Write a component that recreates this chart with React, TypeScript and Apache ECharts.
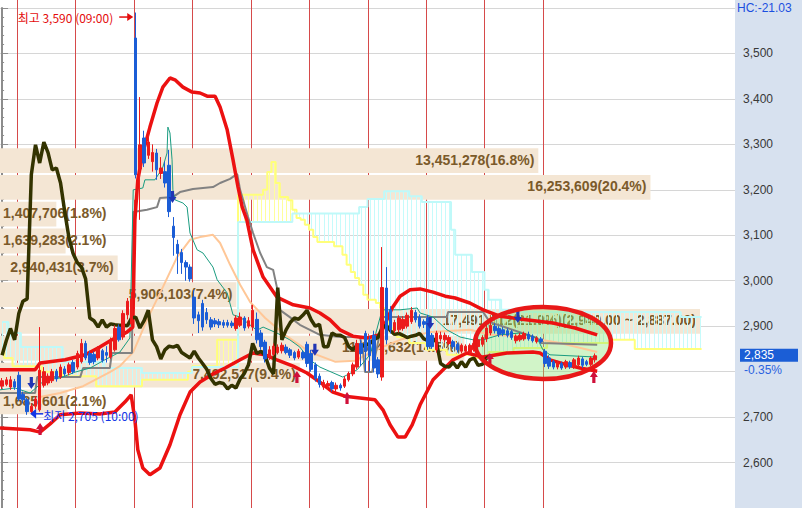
import React, { useEffect, useRef } from "react";
import * as echarts from "echarts";

// ---------------- data ----------------
const SLOTS = 176; // 30-minute slots across the visible x range (incl. cloud projection)
const BARS_PER_DAY = 14;
const FIRST_DAY_BAR = 4; // first 09:00 bar
const CHIKOU_SHIFT = 25;
const CLOUD_LAST_BAR = 167;

const SESSION_TIMES = ["09:00", "09:30", "10:00", "10:30", "11:00", "11:30", "12:00", "12:30", "13:00", "13:30", "14:00", "14:30", "15:00", "15:30"];

// [open, close, low, high]
const ohlc: number[][] = [
  [2768, 2780, 2762, 2786], [2772, 2782, 2768, 2788], [2766, 2782, 2760, 2790], [2778, 2766, 2760, 2784],
  [2792, 2740, 2735, 2800], [2750, 2738, 2730, 2756], [2738, 2712, 2705, 2742], [2712, 2724, 2708, 2730],
  [2724, 2740, 2718, 2746], [2716, 2803, 2712, 2898], [2770, 2800, 2765, 2810], [2775, 2790, 2770, 2796],
  [2780, 2800, 2775, 2806], [2801, 2784, 2778, 2806], [2788, 2810, 2784, 2816], [2806, 2795, 2790, 2812],
  [2798, 2815, 2792, 2820], [2820, 2800, 2795, 2826],
  [2810, 2840, 2805, 2846], [2822, 2862, 2818, 2872], [2862, 2830, 2825, 2868], [2840, 2820, 2815, 2846],
  [2838, 2822, 2816, 2844], [2830, 2850, 2825, 2856], [2846, 2825, 2820, 2850], [2842, 2836, 2820, 2856],
  [2832, 2868, 2828, 2875], [2848, 2895, 2844, 2902], [2898, 2870, 2866, 2904], [2876, 2928, 2870, 2935],
  [2925, 2955, 2915, 2962], [2905, 2960, 2895, 2975],
  [3534, 3233, 3225, 3590], [3246, 3299, 3134, 3404], [3314, 3259, 3250, 3330], [3276, 3305, 3268, 3320],
  [3262, 3282, 3240, 3300], [3281, 3244, 3222, 3290], [3236, 3248, 3224, 3272], [3240, 3215, 3205, 3262],
  [3254, 3152, 3140, 3288], [3120, 3095, 3055, 3140], [3080, 3060, 3015, 3090], [3062, 3040, 3015, 3070],
  [3040, 3030, 3000, 3045], [3030, 3004, 2998, 3036],
  [2964, 2918, 2905, 2980], [2925, 2912, 2885, 2932], [2950, 2898, 2890, 2958], [2930, 2914, 2905, 2940],
  [2914, 2898, 2892, 2920], [2912, 2905, 2898, 2918], [2910, 2903, 2896, 2916], [2908, 2902, 2896, 2914],
  [2908, 2902, 2897, 2914], [2907, 2901, 2896, 2912], [2895, 2918, 2890, 2924], [2902, 2920, 2898, 2930],
  [2918, 2896, 2890, 2922], [2900, 2912, 2895, 2920],
  [2898, 2935, 2890, 2947], [2915, 2870, 2862, 2930], [2885, 2855, 2848, 2892], [2865, 2828, 2820, 2870],
  [2832, 2848, 2826, 2856], [2838, 2856, 2834, 2862], [2842, 2854, 2838, 2860], [2846, 2858, 2840, 2864],
  [2854, 2842, 2838, 2860], [2848, 2836, 2830, 2852], [2842, 2830, 2825, 2846], [2832, 2845, 2828, 2850],
  [2842, 2830, 2826, 2846], [2860, 2818, 2810, 2866],
  [2840, 2805, 2800, 2848], [2815, 2785, 2778, 2820], [2790, 2772, 2765, 2796], [2766, 2776, 2760, 2782],
  [2768, 2774, 2760, 2780], [2776, 2762, 2756, 2780], [2762, 2770, 2755, 2776], [2770, 2764, 2758, 2774],
  [2768, 2784, 2764, 2790], [2782, 2796, 2778, 2800], [2795, 2815, 2790, 2820], [2810, 2862, 2805, 2870],
  [2862, 2840, 2812, 2870], [2884, 2845, 2800, 2890],
  [2870, 2835, 2800, 2878], [2880, 2808, 2798, 2890], [2826, 2795, 2786, 2832], [2788, 2985, 2780, 3074],
  [2984, 2870, 2860, 3030], [2936, 2892, 2884, 2944], [2890, 2908, 2885, 2914], [2892, 2918, 2886, 2924],
  [2895, 2915, 2890, 2922], [2900, 2924, 2895, 2930], [2910, 2935, 2905, 2942], [2930, 2914, 2908, 2936],
  [2920, 2900, 2895, 2926], [2910, 2904, 2896, 2915],
  [2918, 2855, 2848, 2925], [2880, 2855, 2850, 2885], [2848, 2885, 2842, 2890], [2872, 2880, 2866, 2888],
  [2870, 2880, 2864, 2886], [2862, 2875, 2858, 2880], [2866, 2855, 2850, 2870], [2860, 2848, 2842, 2864],
  [2845, 2858, 2840, 2862], [2845, 2856, 2840, 2860], [2842, 2858, 2838, 2862], [2848, 2862, 2844, 2868],
  [2855, 2870, 2850, 2875], [2860, 2875, 2855, 2880],
  [2872, 2896, 2865, 2905], [2885, 2902, 2880, 2910], [2900, 2890, 2884, 2906], [2895, 2882, 2876, 2900],
  [2892, 2884, 2878, 2898], [2890, 2880, 2875, 2895], [2888, 2875, 2870, 2892], [2868, 2878, 2862, 2882],
  [2870, 2880, 2866, 2885], [2872, 2884, 2868, 2888], [2882, 2872, 2868, 2888], [2878, 2868, 2864, 2882],
  [2866, 2874, 2862, 2878], [2872, 2866, 2862, 2876],
  [2845, 2818, 2810, 2850], [2830, 2812, 2806, 2836], [2822, 2810, 2805, 2826], [2810, 2820, 2805, 2824],
  [2818, 2808, 2804, 2822], [2810, 2822, 2806, 2826], [2820, 2810, 2806, 2824], [2810, 2826, 2806, 2830],
  [2815, 2830, 2810, 2835], [2828, 2814, 2808, 2832], [2822, 2816, 2812, 2826], [2816, 2830, 2812, 2834],
  [2826, 2835, 2820, 2840],
];

// Bollinger bands [barIndex, price]
const upperBand: number[][] = [
  [-0.5, 2804], [7.9, 2804], [9.1, 2819], [15.1, 2826], [19.9, 2837], [23.4, 2854], [26.3, 2870], [29.9, 2887],
  [31.3, 2898], [31.8, 3134], [32.5, 3222], [33.7, 3281], [35.4, 3338], [37.1, 3391], [38.5, 3426], [40.2, 3446],
  [41.4, 3442], [43.3, 3426], [45.5, 3415], [47.4, 3413], [49.1, 3406], [51.0, 3406], [52.2, 3382], [53.9, 3332],
  [55.3, 3266], [56.5, 3206], [57.5, 3162], [58.6, 3134], [60.1, 3068], [62.5, 3008], [65.8, 2964], [69.7, 2947],
  [73.7, 2940], [76.1, 2929], [78.5, 2914], [80.9, 2892], [84.0, 2878], [87.4, 2874], [90.5, 2881], [91.9, 2909],
  [93.4, 2940], [95.3, 2966], [97.7, 2980], [100.1, 2982], [103.2, 2975], [106.1, 2966], [108.5, 2962], [112.0, 2951],
  [115.2, 2936], [119.2, 2922], [124.0, 2916], [131.9, 2907], [137.2, 2896], [142.5, 2881],
];
const lowerBand: number[][] = [
  [-0.5, 2676], [6.7, 2672], [9.1, 2667], [11.5, 2685], [13.9, 2705], [18.7, 2709], [23.4, 2707], [27.0, 2711],
  [29.4, 2733], [30.9, 2749], [31.8, 2694], [32.5, 2628], [33.7, 2588], [35.4, 2573], [37.8, 2588], [40.2, 2639],
  [42.6, 2705], [45.0, 2755], [47.4, 2777], [50.5, 2795], [53.4, 2808], [57.0, 2826], [60.1, 2841], [63.0, 2837],
  [65.8, 2826], [69.7, 2812], [73.0, 2797], [76.1, 2777], [79.2, 2755], [82.1, 2746], [85.7, 2742], [89.3, 2738],
  [91.2, 2716], [92.9, 2683], [94.8, 2656], [96.5, 2656], [98.2, 2683], [100.1, 2727], [103.2, 2782], [108.0, 2826],
  [111.3, 2841], [115.2, 2832], [120.9, 2841], [127.1, 2843], [128.8, 2841], [131.2, 2826], [135.3, 2815],
  [138.4, 2808], [142.5, 2801],
];
// Ichimoku base line (gray)
const baseLine: number[][] = [
  [-0.5, 2753], [7.9, 2753], [8.4, 2788], [18.7, 2788], [19.4, 2808], [25.8, 2808], [26.3, 2841], [31.1, 2841],
  [31.4, 3151], [34.7, 3156], [37.1, 3162], [37.8, 3182], [40.9, 3184], [42.6, 3195], [45.7, 3202], [50.5, 3206],
  [52.2, 3215], [54.6, 3224], [56.3, 3235], [57.0, 3200], [57.7, 3178], [58.9, 3140], [60.1, 3105], [61.8, 3061],
  [63.4, 3030], [64.9, 3024], [65.8, 2986], [66.5, 2936], [68.9, 2920], [71.3, 2903], [73.7, 2892], [76.1, 2881],
  [80.9, 2876], [85.7, 2876], [86.4, 2848], [86.9, 2799], [88.6, 2799], [91.2, 2920], [106.5, 2920], [106.8, 2931],
  [115.2, 2931], [116.8, 2909], [128.1, 2874], [129.1, 2863], [142.5, 2859],
];
// Ichimoku conversion line (teal)
const convLine: number[][] = [
  [-0.5, 2760], [3.1, 2764], [6.7, 2753], [10.3, 2782], [13.9, 2786], [17.5, 2799], [21.1, 2808], [24.6, 2826],
  [28.2, 2843], [30.6, 2874], [31.4, 3200], [33.7, 3204], [34.2, 3222], [36.6, 3222], [37.8, 3239], [38.5, 3250],
  [39.5, 3281], [39.7, 3338], [40.2, 3325], [40.7, 3266], [40.9, 3200], [41.4, 3178], [43.3, 3171], [44.3, 3162],
  [45.0, 3105], [46.7, 3068], [48.1, 3061], [50.5, 3030], [51.5, 3002], [53.9, 2973], [55.3, 2925], [57.0, 2920],
  [61.0, 2891], [62.5, 2898], [65.8, 2885], [68.9, 2870], [71.3, 2854], [73.7, 2826], [76.1, 2810], [81.6, 2788],
  [85.0, 2804], [88.1, 2837], [91.0, 2936], [95.3, 2936], [99.4, 2940], [100.1, 2929], [103.2, 2920], [106.5, 2892],
  [109.7, 2876], [112.8, 2870], [115.2, 2870], [119.2, 2881], [124.0, 2885], [128.1, 2874], [129.5, 2848],
  [131.2, 2837], [142.5, 2832],
];
// moving average (light orange)
const movingAvg: number[][] = [
  [9.1, 2744], [13.9, 2753], [19.4, 2768], [25.8, 2799], [28.2, 2812], [31.4, 2843], [34.7, 2914], [38.5, 2986],
  [41.9, 3052], [45.0, 3090], [47.4, 3096], [50.5, 3101], [52.2, 3083], [54.6, 3035], [57.0, 2991], [59.4, 2953],
  [63.0, 2918], [67.7, 2881], [73.7, 2843], [79.7, 2822], [84.5, 2824], [90.5, 2852], [95.3, 2870], [102.5, 2887],
  [112.1, 2892], [116.8, 2881], [124.0, 2878], [133.6, 2863], [142.5, 2843],
];
// leading spans as [fromBar, price] steps
const spanCyan: number[][] = [
  [0, 2909], [2, 2885], [5, 2854], [15, 2821], [25, 2808], [34, 2797], [46, 2810], [57, 3129], [70, 3148],
  [86, 3162], [88, 3180], [92, 3197], [98, 3186], [101, 3173], [108, 3112], [109, 3057], [113, 3019], [116, 2980],
  [117, 2958], [120, 2936], [125, 2931], [163, 2920],
];
const spanYellow: number[][] = [
  [0, 2848], [1, 2830], [3, 2812], [10, 2800], [15, 2790], [23, 2768], [34, 2782], [45, 2800], [46, 2812],
  [52, 2870], [57, 3189], [63, 3200], [64, 3239], [65, 3261], [66, 3215], [67, 3184], [69, 3177], [70, 3156],
  [71, 3138], [72, 3134], [73, 3123], [74, 3112], [75, 3096], [76, 3085], [80, 3076], [82, 3057], [83, 3035],
  [84, 3019], [85, 3006], [86, 2991], [87, 2969], [88, 2958], [90, 2951], [91, 2940], [92, 2918], [93, 2896],
  [94, 2883], [95, 2876], [98, 2863], [102, 2848], [107, 2837], [113, 2830], [117, 2843], [123, 2852], [131, 2863],
  [146, 2870], [152, 2850],
];

// volume profile
const binLow = [2705, 2764, 2823, 2882, 2941, 3000, 3059, 3118, 3177, 3236];
const BIN_SIZE = 59;
const binVolume = [1685601, 7492517, 11604632, 17491512, 5906103, 2940431, 1639283, 1407706, 16253609, 13451278];
const binPct = [2.1, 9.4, 14.5, 21.9, 7.4, 3.7, 2.1, 1.8, 20.4, 16.8];
const POC_RANGE = "(2,940.00 ~ 2,887.00)";

// signals [barIndex, price]
const sellSignals = [[7.0, 2775], [40.8, 3184], [74.9, 2848], [102.5, 2907], [123.5, 2920]];
const buySignals = [[9.1, 2674], [70.6, 2788], [82.6, 2742], [116.8, 2828], [141.7, 2788]];

const HIGH_BAR = 32, HIGH_PRICE = 3590, HIGH_TEXT = "최고 3,590 (09:00)";
const LOW_BAR = 6, LOW_PRICE = 2705, LOW_TEXT = "최저 2,705 (10:00)";
const LAST_CHANGE = "-0.35%";
const HC_TEXT = "HC:-21.03";

const Y_MIN = 2500, Y_MAX = 3600, Y_STEP = 100;

// ---------------- styles ----------------
const UP = "#ec1c1c";
const DOWN = "#1b5dd6";
const BAND_FILL = "#f4e6d4";
const BAND_TEXT = "#7b5a2a";
const BAND_FONT = 'bold 14px "Liberation Sans"';
const KFONT = '12px "Noto Sans CJK KR"';

const measureCtx = typeof document !== "undefined" ? document.createElement("canvas").getContext("2d") : null;
function textWidth(s: string, font: string) {
  if (!measureCtx) return s.length * 7;
  measureCtx.font = font;
  return measureCtx.measureText(s).width;
}

function expandSteps(segs: number[][], last: number) {
  const out: (number | null)[] = new Array(SLOTS).fill(null);
  for (let i = 0; i <= last; i++) {
    let v: number | null = null;
    for (const [s, val] of segs) if (s <= i) v = val;
    out[i] = v;
  }
  return out;
}

function buildOption() {
  const lastClose = ohlc[ohlc.length - 1][1];
  const categories = Array.from({ length: SLOTS }, (_, i) =>
    SESSION_TIMES[(((i - FIRST_DAY_BAR) % BARS_PER_DAY) + BARS_PER_DAY) % BARS_PER_DAY] + "#" + i
  );
  const chikou: (number | null)[] = new Array(SLOTS).fill(null);
  for (let i = 0; i + CHIKOU_SHIFT < ohlc.length; i++) chikou[i] = ohlc[i + CHIKOU_SHIFT][1];

  const yellow = expandSteps(spanYellow, CLOUD_LAST_BAR);
  const cyan = expandSteps(spanCyan, CLOUD_LAST_BAR);
  const hatch: number[][] = [];
  for (let i = 0; i <= CLOUD_LAST_BAR; i++) hatch.push([i, yellow[i] as number, cyan[i] as number]);

  const dayBounds: number[][] = [];
  for (let b = FIRST_DAY_BAR; b < ohlc.length; b += BARS_PER_DAY) dayBounds.push([b - 0.5, Y_MIN]);

  const maxVol = Math.max(...binVolume);
  const bandData = binLow.map((lo, k) => [binVolume[k], lo, lo + BIN_SIZE]);
  const bandLabels = binLow.map(
    (_, k) =>
      binVolume[k].toLocaleString("en-US") + "(" + binPct[k].toFixed(1) + "%)" + (binVolume[k] === maxVol ? POC_RANGE : "")
  );

  const lineCommon = { type: "line", xAxisIndex: 1, yAxisIndex: 0, showSymbol: false, symbol: "none", silent: true, z: 5 };

  return {
    animation: false,
    backgroundColor: "transparent",
    grid: { left: 0, right: 67, top: 8, bottom: 0, containLabel: false },
    xAxis: [
      { type: "category", data: categories, boundaryGap: true, show: false },
      { type: "value", min: -0.5, max: SLOTS - 0.5, show: false },
      { type: "value", min: 0, max: (maxVol * 735) / 700, show: false },
    ],
    yAxis: {
      type: "value",
      position: "right",
      min: Y_MIN,
      max: Y_MAX,
      interval: Y_STEP,
      axisLine: { show: true, lineStyle: { color: "#8c8c8c", width: 2 } },
      axisTick: { show: true, length: 6, lineStyle: { color: "#8c8c8c" } },
      minorTick: { show: true, splitNumber: 5, length: 2, lineStyle: { color: "#8c8c8c" } },
      axisLabel: {
        margin: 8,
        color: "#383838",
        fontSize: 12,
        fontFamily: "Liberation Sans",
        showMaxLabel: false,
        showMinLabel: false,
        formatter: (v: number) => (Math.abs(v - lastClose) < 50 ? "" : v.toLocaleString("en-US")),
      },
      splitLine: { show: true, lineStyle: { color: "#d6d6d6", width: 1 } },
    },
    series: [
      {
        type: "custom",
        name: "days",
        xAxisIndex: 1,
        yAxisIndex: 0,
        clip: false,
        silent: true,
        z: 1,
        data: dayBounds,
        renderItem: (_p: any, api: any) => {
          const x = Math.round(api.coord([api.value(0), Y_MIN])[0]) + 0.5;
          return {
            type: "line",
            shape: { x1: x, y1: 0, x2: x, y2: api.getHeight() },
            style: { stroke: "#d64a4a", lineWidth: 1 },
          };
        },
      },
      {
        type: "custom",
        name: "volume profile",
        xAxisIndex: 2,
        yAxisIndex: 0,
        silent: true,
        z: 2,
        data: bandData,
        renderItem: (params: any, api: any) => {
          const vol = api.value(0), lo = api.value(1), hi = api.value(2);
          const p0 = api.coord([0, hi]);
          const p1 = api.coord([vol, lo]);
          const x0 = p0[0], y0 = p0[1] + 1.5, x1 = p1[0], y1 = p1[1] - 0.5;
          const label = bandLabels[params.dataIndex];
          const w = textWidth(label, BAND_FONT);
          const right = Math.max(x1 - 4, x0 + 3 + w);
          return {
            type: "group",
            children: [
              { type: "rect", shape: { x: x0, y: y0, width: x1 - x0, height: y1 - y0 }, style: { fill: BAND_FILL } },
              {
                type: "text",
                style: {
                  text: label, x: right, y: (y0 + y1) / 2 - 1, align: "right", verticalAlign: "middle",
                  textAlign: "right", textVerticalAlign: "middle", fill: BAND_TEXT, font: BAND_FONT,
                },
              },
            ],
          };
        },
      },
      {
        type: "custom",
        name: "cloud",
        xAxisIndex: 0,
        yAxisIndex: 0,
        silent: true,
        z: 3,
        data: hatch,
        encode: { x: 0, y: [1, 2] },
        renderItem: (_p: any, api: any) => {
          const i = api.value(0), a = api.value(1), b = api.value(2);
          const pa = api.coord([i, a]);
          const pb = api.coord([i, b]);
          const x = Math.round(pa[0]) + 0.5;
          return {
            type: "line",
            shape: { x1: x, y1: pa[1], x2: x, y2: pb[1] },
            style: { stroke: a > b ? "#ffff9c" : "#c6fbfb", lineWidth: 1 },
          };
        },
      },
      { type: "line", xAxisIndex: 0, yAxisIndex: 0, data: yellow, step: "middle", showSymbol: false, symbol: "none", silent: true, z: 3, lineStyle: { color: "#ffff7a", width: 2 } },
      { type: "line", xAxisIndex: 0, yAxisIndex: 0, data: cyan, step: "middle", showSymbol: false, symbol: "none", silent: true, z: 3, lineStyle: { color: "#bff9f9", width: 2 } },
      { ...lineCommon, name: "ma", data: movingAvg, lineStyle: { color: "#ffc797", width: 2 } },
      { ...lineCommon, name: "base", data: baseLine, lineStyle: { color: "#828282", width: 2 } },
      { ...lineCommon, name: "conv", data: convLine, lineStyle: { color: "#1a9c80", width: 1 } },
      { ...lineCommon, name: "bb upper", data: upperBand, lineStyle: { color: "#ec1111", width: 3.5 } },
      { ...lineCommon, name: "bb lower", data: lowerBand, lineStyle: { color: "#ec1111", width: 3.5 } },
      {
        type: "line", name: "lagging", xAxisIndex: 0, yAxisIndex: 0, data: chikou, showSymbol: false, symbol: "none",
        silent: true, z: 5, lineStyle: { color: "#333300", width: 3.5 },
      },
      {
        type: "candlestick", name: "price", xAxisIndex: 0, yAxisIndex: 0, data: ohlc, barWidth: 3, silent: true, z: 6,
        itemStyle: { color: UP, color0: DOWN, borderColor: UP, borderColor0: DOWN, borderWidth: 1 },
      },
      {
        type: "scatter", name: "sell", xAxisIndex: 1, yAxisIndex: 0, data: sellSignals, silent: true, z: 7,
        symbol: "path://M3,0H7V6H10L5,12L0,6H3Z", symbolSize: [8, 12],
        itemStyle: { color: "#2035b4", opacity: 1 },
      },
      {
        type: "scatter", name: "buy", xAxisIndex: 1, yAxisIndex: 0, data: buySignals, silent: true, z: 7,
        symbol: "path://M5,0L10,6H7V12H3V6H0Z", symbolSize: [8, 12],
        itemStyle: { color: "#d0103a", opacity: 1 },
      },
    ],
  };
}

export default function App() {
  const ref = useRef<HTMLDivElement>(null);
  useEffect(() => {
    if (!ref.current) return;
    const chart = echarts.init(ref.current, null, { renderer: "svg" });
    chart.setOption(buildOption() as any);
    const toPx = (i: number, p: number) =>
      chart.convertToPixel({ xAxisIndex: 1, yAxisIndex: 0 } as any, [i, p]) as unknown as number[];
    const lastClose = ohlc[ohlc.length - 1][1];
    const [hx, hy] = toPx(HIGH_BAR, HIGH_PRICE);
    const [lx, ly] = toPx(LOW_BAR, LOW_PRICE);
    const py = toPx(0, lastClose)[1];
    const RED = "#e40c0c";
    const BLUE = "#1236e6";
    const hTipX = hx - 2.5, hTipY = hy + 4.5;
    const lTipX = lx + 3, lTipY = ly - 1;
    const txt = (text: string, x: number, y: number, fill: string, font: string, align = "left") => ({
      type: "text", x, y, silent: true, z: 20,
      style: { text, fill, font, align, textAlign: align, verticalAlign: "middle", textVerticalAlign: "middle" },
    });
    chart.setOption({
      graphic: [
        { type: "ellipse", silent: true, z: 4, shape: { cx: 543, cy: 343, rx: 68, ry: 36 }, style: { fill: "rgba(140,228,118,0.40)" } },
        { type: "ellipse", silent: true, z: 19, shape: { cx: 543, cy: 343, rx: 68, ry: 36 }, style: { fill: "none", stroke: "#e81818", lineWidth: 4.5 } },
        { type: "line", silent: true, z: 20, shape: { x1: hTipX - 14, y1: hTipY, x2: hTipX - 5, y2: hTipY }, style: { stroke: RED, lineWidth: 1.5 } },
        { type: "polygon", silent: true, z: 20, shape: { points: [[hTipX, hTipY], [hTipX - 6, hTipY - 4], [hTipX - 6, hTipY + 4]] }, style: { fill: RED } },
        txt(HIGH_TEXT, hTipX - 20, hTipY, RED, KFONT, "right"),
        { type: "line", silent: true, z: 20, shape: { x1: lTipX + 5, y1: lTipY, x2: lTipX + 13, y2: lTipY }, style: { stroke: BLUE, lineWidth: 1.5 } },
        { type: "polygon", silent: true, z: 20, shape: { points: [[lTipX, lTipY], [lTipX + 6, lTipY - 5], [lTipX + 6, lTipY + 5]] }, style: { fill: BLUE } },
        txt(LOW_TEXT, lTipX + 13, lTipY + 2, BLUE, KFONT, "left"),
        { type: "rect", silent: true, z: 20, shape: { x: 740, y: py - 7, width: 58, height: 13 }, style: { fill: "#1b5ed6" } },
        txt(lastClose.toLocaleString("en-US"), 744, py - 0.5, "#ffffff", '12px "Liberation Sans"'),
        txt(LAST_CHANGE, 744, py + 14, "#2a62e0", '12px "Liberation Sans"'),
        txt(HC_TEXT, 737, 8, "#1a4fe0", '12px "Liberation Sans"'),
      ],
    } as any);
    return () => chart.dispose();
  }, []);
  return (
    <div
      ref={ref}
      style={{
        position: "absolute",
        left: 0,
        top: 0,
        width: 802,
        height: 508,
        background: "linear-gradient(to right, #ffffff 735px, #d7e1ef 735px)",
      }}
    />
  );
}
